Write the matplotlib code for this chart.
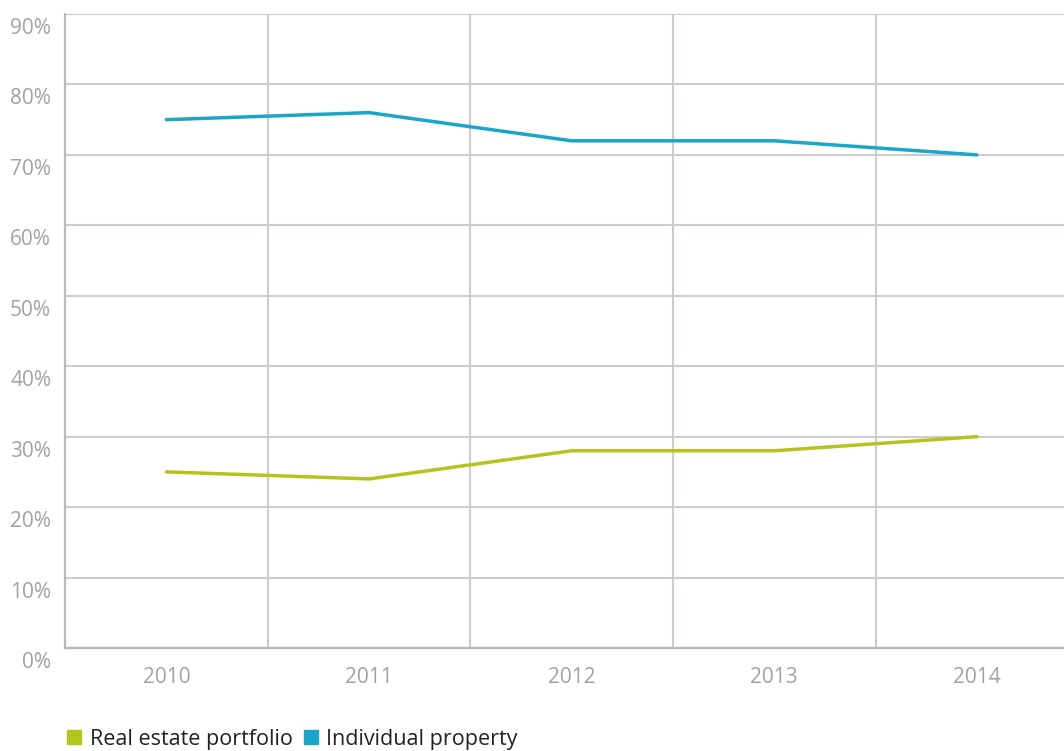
import matplotlib.pyplot as plt
from matplotlib.patches import Patch
from matplotlib import transforms

years = ['2010', '2011', '2012', '2013', '2014']
portfolio = [25, 24, 28, 28, 30]
individual = [75, 76, 72, 72, 70]
yticks = [0, 10, 20, 30, 40, 50, 60, 70, 80, 90]

green = '#b4c41c'
blue = '#1aa6c9'
grid_c = '#cfcbc7'
text_c = '#a5a19d'

plt.rcParams['font.family'] = ['Open Sans', 'DejaVu Sans']

fig = plt.figure(figsize=(10.64, 7.51), dpi=100)
ax = fig.add_axes([65/1064, 103/751, 999/1064, 634/751])

x = range(len(years))
ax.plot(x, portfolio, color=green, lw=2.5, solid_capstyle='round', zorder=3)
ax.plot(x, individual, color=blue, lw=2.5, solid_capstyle='round', zorder=3)

ax.set_yticks(yticks)
ax.set_yticklabels([f'{v}%' for v in yticks])
ax.set_xticks(list(x))
ax.set_xticklabels(years)
ax.set_xticks([i + 0.5 for i in range(len(years))], minor=True)
# limits after ticks, otherwise set_xticks widens them again
ax.set_xlim(-0.5, 4.43)
ax.set_ylim(0, 90)

ax.grid(axis='y', which='major', color=grid_c, lw=1.5)
ax.grid(axis='x', which='minor', color=grid_c, lw=1.5)
ax.set_axisbelow(True)

for s in ['top', 'right']:
    ax.spines[s].set_visible(False)
for s in ['left', 'bottom']:
    ax.spines[s].set_color('#bdb8b3')
    ax.spines[s].set_linewidth(1.6)

ax.tick_params(which='both', length=0)
ax.tick_params(axis='y', labelsize=15, labelcolor=text_c, pad=10)
ax.tick_params(axis='x', labelsize=15, labelcolor=text_c, pad=14)
off = transforms.ScaledTranslation(0, -4/100, fig.dpi_scale_trans)
for lab in ax.get_yticklabels():
    lab.set_verticalalignment('top')
    lab.set_transform(lab.get_transform() + off)

handles = [Patch(color=green), Patch(color=blue)]
fig.legend(handles, ['Real estate portfolio', 'Individual property'],
           loc='lower left', bbox_to_anchor=(48/1064, -0.024), ncol=2,
           frameon=False, fontsize=15.5, handlelength=0.65, handleheight=0.65,
           handletextpad=0.4, columnspacing=0.5, labelcolor='#222222')

fig.savefig('out.png', dpi=100)
